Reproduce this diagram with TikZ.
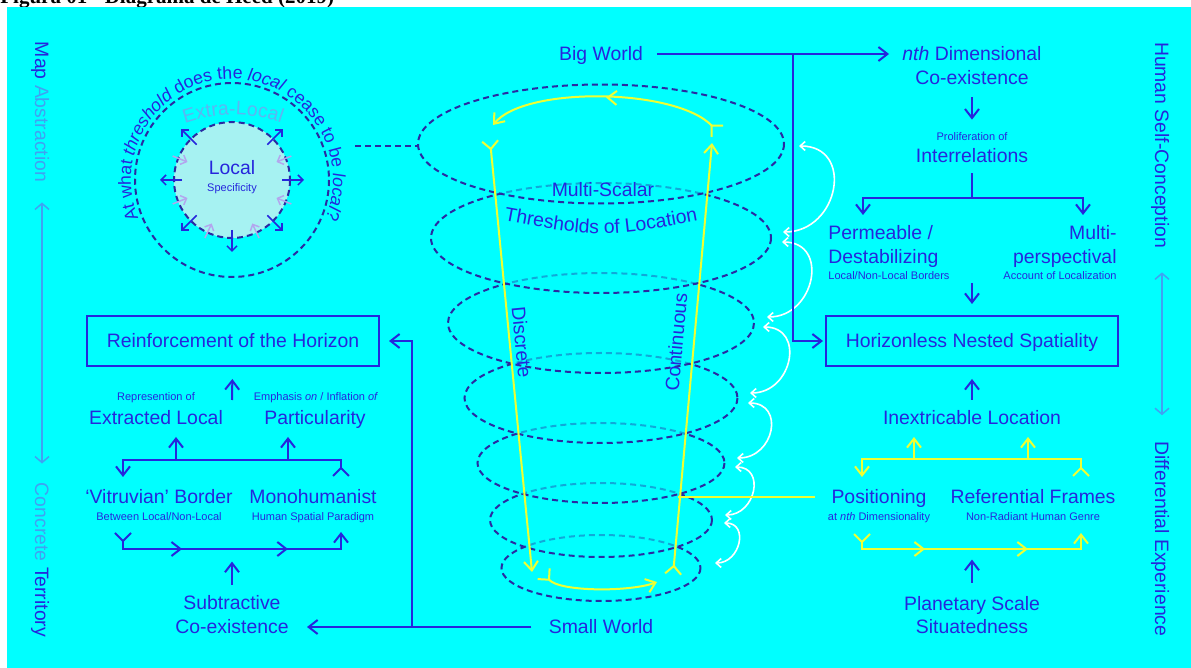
\documentclass[tikz,border=0pt]{standalone}
\usepackage{fontspec}
\setmainfont{Liberation Sans}
\newfontfamily\capfont{Liberation Serif}
\usepackage{tikz}
\usetikzlibrary{arrows.meta,decorations.text,decorations.markings}

\definecolor{bgcyan}{HTML}{00FFFF}
\definecolor{dblue}{HTML}{2626DC}
\definecolor{navy}{HTML}{2A2AA2}
\definecolor{lblue}{HTML}{3FA2F2}
\definecolor{pblue}{HTML}{5CB6F2}
\definecolor{pale}{HTML}{A6F2F2}
\definecolor{lav}{HTML}{B3A6EE}
\definecolor{yel}{HTML}{EEFF33}

\newcommand{\bigf}{\fontsize{9.7}{12}\selectfont}
\newcommand{\smallf}{\fontsize{5.5}{6.6}\selectfont}
\newcommand{\circf}{\fontsize{8.8}{10}\selectfont}

\begin{document}
\begin{tikzpicture}[x=0.5pt,y=-0.5pt]
\tikzset{lbl/.style = {text=dblue, font=\bigf, inner sep=0pt, text height=7pt, text depth=0pt}}
\tikzset{sml/.style = {text=dblue, font=\smallf, inner sep=0pt, text height=4pt, text depth=0pt}}
\tikzset{box/.style = {lbl, draw=dblue, line width=1pt, minimum width=146pt, minimum height=25pt}}
\tikzset{ln/.style = {draw=dblue, line width=1pt}}
\tikzset{arr/.style = {ln, -{Straight Barb[length=4.5pt,width=7pt]}}}
\tikzset{brk/.style = {{Straight Barb[reversed,length=4pt,width=8pt]}-{Straight Barb[length=4.5pt,width=7pt]}}}
\tikzset{ylw/.style = {draw=yel, line width=1pt}}
\tikzset{yarr/.style = {ylw, -{Straight Barb[length=4.5pt,width=7pt]}}}
\tikzset{dsh/.style = {draw=navy, line width=1pt, dash pattern=on 3pt off 2pt}}
\tikzset{oarr/.style = {draw=dblue, line width=0.75pt, -{Straight Barb[length=2.5pt,width=5pt]}}}
\tikzset{iarr/.style = {draw=lav, line width=0.75pt, -{Straight Barb[length=2.5pt,width=5pt]}}}
\tikzset{warr/.style = {draw=white, line width=0.8pt, {Straight Barb[length=2.5pt,width=4.5pt]}-{Straight Barb[length=2.5pt,width=4.5pt]}}}
\tikzset{sarr/.style = {draw=lblue, line width=0.75pt, {Straight Barb[length=3pt,width=7pt]}-{Straight Barb[length=3pt,width=7pt]}}}
\tikzset{midtip/.style = {postaction={decorate}, decoration={markings,
  mark=at position #1 with {\arrow{Straight Barb[length=4.5pt,width=7pt]}}}}}
\tikzset{mids/.style 2 args = {postaction={decorate}, decoration={markings,
  mark=at position #1 with {\arrow{Straight Barb[length=4.5pt,width=7pt]}},
  mark=at position #2 with {\arrow{Straight Barb[length=4.5pt,width=7pt]}}}}}

%background
\fill[white] (0,0) rectangle (1191,668);
\useasboundingbox (0,0) rectangle (1191,668);
\node[anchor=base west, inner sep=0pt, font=\capfont\bfseries\fontsize{10.5}{12}\selectfont] (cap) at (0,4) {Figura 01 - Diagrama de Heed (2019)};
\fill[bgcyan] (7,7) rectangle (1191,668);

%stacked thresholds
\foreach \cy/\rx/\ry in {568/99.5/33, 520/111/37, 463/123.5/40, 398/136.5/45, 323/153/50, 238/170/55, 144/183/59.5}
{
  \fill[bgcyan, fill opacity=0.6] (601,\cy) ellipse [x radius=\rx, y radius=\ry];
  \draw[dsh] (601,\cy) ellipse [x radius=\rx, y radius=\ry];
}

%local circle
\coordinate (c) at (232,180);
\coordinate (c2) at (233,261);
\draw[dsh] (c) circle [radius=97];
\draw[dsh, fill=pale] (c) circle [radius=58];
\foreach \a in {0,45,90,135,180,225,315}
  \draw[oarr] ([shift={(\a:50)}]c) -- ([shift={(\a:72)}]c);
\foreach \a in {22,65,115,158,202,338}
  \draw[iarr] ([shift={(\a:64)}]c) -- ([shift={(\a:48)}]c);
\node[lbl] (local) at (232,168) {Local};
\node[sml] (localsub) at (232,188) {Specificity};
\path[decorate, decoration={text along path, text align=center,
  text={|\bigf\color{pblue}|Extra-Local}}]
  ([shift={(246:146)}]c2) arc [start angle=246, end angle=294, radius=146];
\path[decorate, decoration={text along path, text align=center,
  text={|\circf\color{dblue}|At what |\circf\itshape\color{dblue}|threshold|\circf\color{dblue}| does the |\circf\itshape\color{dblue}|local|\circf\color{dblue}| cease to be |\circf\itshape\color{dblue}|local|\circf\color{dblue}|?}}]
  ([shift={(150:101)}]c) arc [start angle=150, end angle=390, radius=101];
\coordinate (cl1) at (355,146);
\coordinate (e1w) at (418,146);
\draw[dsh] (cl1) -- (e1w);

%yellow cycle
\coordinate (dt) at (490,140);
\coordinate (db) at (532,572);
\coordinate (cb) at (673,575);
\coordinate (ct) at (712,143);
\coordinate (ba1) at (543,573);
\coordinate (ba2) at (657,582);
\coordinate (ta1) at (718,132);
\coordinate (ta2) at (493,125);
\draw[ylw, brk] (dt) -- (db);
\draw[ylw, brk] (ba1) .. controls (560,592) and (630,592) .. (ba2);
\draw[ylw, brk] (cb) -- (ct);
\draw[ylw, brk, midtip=0.5] (ta1) .. controls (675,88) and (525,86) .. (ta2);

%white hops
\foreach \ax/\ay/\bx/\by/\b in {799/146/783/232/42, 782/242/767/317/36, 763/327/750/393/32, 748/403/737/458/28, 735/467/725/515/23, 724/523/715/563/19}
  \draw[warr] (\ax,\ay) .. controls +(1.333*\b,0) and +(1.333*\b,0) .. (\bx,\by);

%centre labels
\node[lbl] (bigw) at (601,54) {Big World};
\node[lbl] (mscal) at (603,190) {Multi-Scalar};
\coordinate (th1) at (485,217);
\coordinate (th2) at (717,217);
\path[decorate, decoration={text along path, text align=center,
  text={|\bigf\color{dblue}|Thresholds of Location}}]
  (th1) .. controls (601,239) .. (th2);
\node[lbl, rotate=-84.6] (discr) at (522,342) {Discrete};
\node[lbl, rotate=84.8] (contin) at (676,342) {Continuous};
\node[lbl] (smallw) at (601,627) {Small World};

%side labels
\node[lbl, rotate=-90] (mapab) at (42,112) {Map \textcolor{lblue}{Abstraction}};
\node[lbl, rotate=-90] (concr) at (42,560) {\textcolor{lblue}{Concrete} Territory};
\node[lbl, rotate=-90] (humself) at (1162,145) {Human Self-Conception};
\node[lbl, rotate=-90] (diffexp) at (1162,539) {Differential Experience};
\draw[sarr, shorten <=10pt, shorten >=9.5pt] (mapab) -- (concr);
\draw[sarr, shorten <=12pt, shorten >=13pt] (humself) -- (diffexp);

%right column
\node[lbl] (nth1) at (972,54) {\textit{nth} Dimensional};
\node[lbl] (nth2) at (972,78) {Co-existence};
\node[sml] (prolif) at (972,137) {Proliferation of};
\node[lbl] (interr) at (972,156) {Interrelations};
\node[lbl, anchor=west] (perm1) at (828,233) {Permeable /};
\node[lbl, anchor=west] (perm2) at (828,257) {Destabilizing};
\node[sml, anchor=west] (permsub) at (828,276) {Local/Non-Local Borders};
\node[lbl, anchor=east] (multi1) at (1117,233) {Multi-};
\node[lbl, anchor=east] (multi2) at (1117,257) {perspectival};
\node[sml, anchor=east] (multisub) at (1117,276) {Account of Localization};
\node[box] (horiz) at (972,341) {Horizonless Nested Spatiality};
\node[lbl] (inextr) at (972,418) {Inextricable Location};
\node[lbl] (posit) at (879,497) {Positioning};
\node[sml] (positsub) at (879,517) {at \textit{nth} Dimensionality};
\node[lbl] (refer) at (1033,497) {Referential Frames};
\node[sml] (refersub) at (1033,517) {Non-Radiant Human Genre};
\node[lbl] (planet1) at (972,604) {Planetary Scale};
\node[lbl] (planet2) at (972,627) {Situatedness};

\coordinate (br1) at (793,54);
\coordinate (sp1) at (972,198);
\coordinate (sl) at (863,215);
\coordinate (sr) at (1083,215);
\coordinate (pm) at (972,283);
\coordinate (yt1) at (1081,477);
\coordinate (yt2) at (862,477);
\coordinate (yu1) at (914,459);
\coordinate (yu2) at (1028,459);
\coordinate (yb1) at (862,533);
\coordinate (yb2) at (1081,533);
\coordinate (ycon) at (678,497);

\draw[arr, shorten <=7pt, shorten >=6.5pt] (bigw.east) -- (nth1.west);
\draw[arr, shorten >=1pt] (br1) |- (horiz.west);
\draw[arr, shorten <=6pt, shorten >=6.5pt] (nth2) -- (prolif);
\draw[ln, shorten <=5pt] (interr) -- (sp1);
\draw[arr] (sp1) -| (sl);
\draw[arr] (sp1) -| (sr);
\draw[arr, shorten >=5.5pt] (pm) -- (horiz);
\draw[arr, shorten <=5.5pt, shorten >=6pt] (inextr) -- (horiz);
\draw[ylw, brk] (yt1) -- ++(0,-18) -| (yt2);
\draw[yarr] (yu1) -- ++(0,-22);
\draw[yarr] (yu2) -- ++(0,-22);
\draw[ylw, brk, mids={0.315}{0.725}] (yb1) -- ++(0,16) -| (yb2);
\draw[ylw, shorten >=8pt] (ycon) -- (posit.west);
\draw[arr, shorten <=7pt] (planet1.north) -- ++(0,-37);

%left column
\node[box] (reinf) at (233,341) {Reinforcement of the Horizon};
\node[sml] (extrsub) at (156,397) {Represention of};
\node[lbl] (extr) at (156,418) {Extracted Local};
\node[sml] (particsub) at (316,397) {Emphasis \textit{on} / Inflation \textit{of}};
\node[lbl] (partic) at (315,418) {Particularity};
\node[lbl] (vitr) at (159,497) {‘Vitruvian’ Border};
\node[sml] (vitrsub) at (159,517) {Between Local/Non-Local};
\node[lbl] (mono) at (313,497) {Monohumanist};
\node[sml] (monosub) at (313,517) {Human Spatial Paradigm};
\node[lbl] (subtr1) at (232,603) {Subtractive};
\node[lbl] (subtr2) at (232,627) {Co-existence};

\coordinate (lm) at (232,400);
\coordinate (lt1) at (341,477);
\coordinate (lt2) at (123,477);
\coordinate (lu1) at (176,460);
\coordinate (lu2) at (288,460);
\coordinate (lb1) at (123,532);
\coordinate (lb2) at (341,532);
\coordinate (br2) at (412,627);

\draw[arr, shorten >=6pt] (lm) -- (reinf);
\draw[ln, brk] (lt1) -- ++(0,-17) -| (lt2);
\draw[arr] (lu1) -- ++(0,-23);
\draw[arr] (lu2) -- ++(0,-23);
\draw[ln, brk, mids={0.302}{0.722}] (lb1) -- ++(0,17) -| (lb2);
\draw[arr, shorten <=5.5pt] (subtr1.north) -- ++(0,-34);
\draw[arr, shorten <=8.5pt, shorten >=9pt] (smallw.west) -- (subtr2.east);
\draw[arr, shorten >=4.5pt] (br2) |- (reinf.east);
\end{tikzpicture}
\end{document}
